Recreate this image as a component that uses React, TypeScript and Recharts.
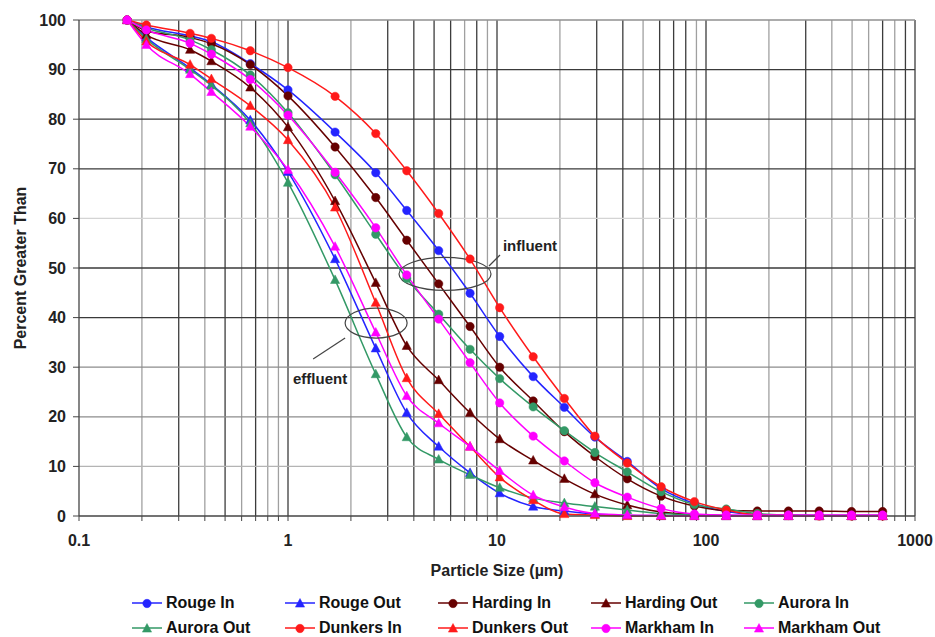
import {
  LineChart,
  Line,
  XAxis,
  YAxis,
  ReferenceLine,
  ReferenceDot,
  Legend,
} from "recharts";

// ── Data ─────────────────────────────────────────────────────────────

const sizes = [
  0.17, 0.21, 0.34, 0.43, 0.66, 1.0, 1.68, 2.63, 3.7, 5.26, 7.43, 10.3, 14.9,
  21, 29.4, 42, 61, 88, 125, 176, 248, 348, 497, 700,
];

const rougeIn = [100, 98.6, 96.8, 95.6, 91.2, 85.9, 77.4, 69.2, 61.6, 53.5, 44.9, 36.2, 28.1, 21.9, 15.9, 11.0, 5.5, 2.5, 0.9, 0.3, 0.2, 0.1, 0.1, 0.1];
const rougeOut = [100, 96.5, 90.3, 87.0, 79.8, 69.4, 51.8, 33.8, 20.8, 14.0, 8.7, 4.6, 1.9, 1.0, 0.4, 0.1, 0, 0, 0, 0, 0, 0, 0, 0];
const hardingIn = [100, 97.8, 96.5, 95.2, 91.0, 84.7, 74.4, 64.2, 55.6, 46.8, 38.2, 30.0, 23.2, 17.0, 12.0, 7.5, 4.0, 2.0, 1.1, 1.0, 1.0, 1.0, 0.9, 0.9];
const hardingOut = [100, 97.0, 94.0, 91.7, 86.4, 78.4, 63.5, 47.0, 34.3, 27.4, 20.8, 15.5, 11.2, 7.5, 4.4, 2.2, 0.8, 0.3, 0.1, 0, 0, 0, 0, 0];
const auroraIn = [100, 98.4, 96.0, 94.0, 88.9, 81.3, 68.8, 56.8, 47.9, 40.7, 33.6, 27.7, 22.0, 17.2, 12.8, 8.9, 4.9, 2.3, 1.4, 0.5, 0.2, 0.1, 0.1, 0.1];
const auroraOut = [100, 96.2, 90.0, 86.8, 79.2, 67.2, 47.6, 28.6, 15.9, 11.4, 8.3, 5.7, 3.6, 2.6, 1.9, 1.2, 0.5, 0.2, 0, 0, 0, 0, 0, 0];
const dunkersIn = [100, 99.0, 97.3, 96.3, 93.8, 90.4, 84.6, 77.1, 69.6, 61.0, 51.8, 42.0, 32.1, 23.7, 16.1, 10.7, 5.9, 2.9, 1.2, 0.2, 0.1, 0, 0, 0];
const dunkersOut = [100, 95.7, 91.0, 88.1, 82.7, 75.8, 62.2, 43.0, 27.8, 20.6, 14.0, 7.8, 3.2, 0.4, 0.2, 0, 0, 0, 0, 0, 0, 0, 0, 0];
const markhamIn = [100, 98.0, 95.3, 93.1, 88.0, 80.8, 69.3, 58.1, 48.6, 39.7, 30.9, 22.8, 16.1, 11.1, 6.7, 3.8, 1.5, 0.4, 0.2, 0.2, 0.2, 0.2, 0.2, 0.2];
const markhamOut = [100, 95.0, 89.1, 85.5, 78.5, 69.8, 54.3, 37.0, 24.2, 18.7, 14.0, 9.1, 4.2, 1.8, 0.5, 0.2, 0.1, 0, 0, 0, 0, 0, 0, 0];

const decades = [0.1, 1, 10, 100, 1000];
const yTicks = [0, 10, 20, 30, 40, 50, 60, 70, 80, 90, 100];

const notes = [
  { label: "influent", size: 5.64, percent: 48.8 },
  { label: "effluent", size: 2.64, percent: 38.9 },
];

// ── Styling ──────────────────────────────────────────────────────────

const FONT = '"Liberation Sans", Arial, sans-serif';
const BLUE = "#2424ff";
const MAROON = "#660000";
const GREEN = "#339966";
const RED = "#ff1a1a";
const MAGENTA = "#ff00ff";

type Marker = "circle" | "triangle";

interface Series {
  key: string;
  name: string;
  color: string;
  marker: Marker;
  values: number[];
}

const seriesList: Series[] = [
  { key: "rougeIn", name: "Rouge In", color: BLUE, marker: "circle", values: rougeIn },
  { key: "rougeOut", name: "Rouge Out", color: BLUE, marker: "triangle", values: rougeOut },
  { key: "hardingIn", name: "Harding In", color: MAROON, marker: "circle", values: hardingIn },
  { key: "hardingOut", name: "Harding Out", color: MAROON, marker: "triangle", values: hardingOut },
  { key: "auroraIn", name: "Aurora In", color: GREEN, marker: "circle", values: auroraIn },
  { key: "auroraOut", name: "Aurora Out", color: GREEN, marker: "triangle", values: auroraOut },
  { key: "dunkersIn", name: "Dunkers In", color: RED, marker: "circle", values: dunkersIn },
  { key: "dunkersOut", name: "Dunkers Out", color: RED, marker: "triangle", values: dunkersOut },
  { key: "markhamIn", name: "Markham In", color: MAGENTA, marker: "circle", values: markhamIn },
  { key: "markhamOut", name: "Markham Out", color: MAGENTA, marker: "triangle", values: markhamOut },
];

const data = sizes.map((size, i) => {
  const row: Record<string, number> = { size };
  seriesList.forEach((s) => {
    row[s.key] = s.values[i];
  });
  return row;
});

// log gridlines: 2..9 inside every decade, plus the decades themselves
const xTicks = decades.flatMap((d, i) =>
  i === decades.length - 1
    ? [d]
    : [1, 2, 3, 4, 5, 6, 7, 8, 9].map((m) => Number((d * m).toPrecision(3)))
);
const darkX = new Set([0.3, 0.5, 0.7, 1, 3, 4, 5, 6, 8, 10, 30, 40, 60, 70, 80, 100, 300, 700, 900, 1000]);
const yGridColor: Record<number, string> = {
  10: "#b4b4b4",
  20: "#8c8c8c",
  30: "#8c8c8c",
  40: "#3a3a3a",
  50: "#3a3a3a",
  60: "#d4d4d4",
  70: "#3a3a3a",
  80: "#3a3a3a",
  90: "#3a3a3a",
  100: "#909090",
};

// ── Pieces ───────────────────────────────────────────────────────────

function MarkerShape({ cx, cy, color, marker }: { cx: number; cy: number; color: string; marker: Marker }) {
  if (marker === "circle") {
    return <circle cx={cx} cy={cy} r={4.2} fill={color} stroke={color} strokeWidth={0.5} />;
  }
  return (
    <polygon
      points={`${cx},${cy - 5} ${cx - 4.6},${cy + 3.6} ${cx + 4.6},${cy + 3.6}`}
      fill={color}
      stroke={color}
      strokeWidth={0.5}
    />
  );
}

function makeDot(color: string, marker: Marker) {
  return (props: any) => {
    const { cx, cy, index } = props;
    if (cx == null || cy == null) return <g key={index} />;
    return (
      <g key={index}>
        <MarkerShape cx={cx} cy={cy} color={color} marker={marker} />
      </g>
    );
  };
}

function LegendGrid() {
  return (
    <div
      style={{
        display: "grid",
        gridTemplateColumns: "repeat(5, 153px)",
        rowGap: 5,
        paddingLeft: 132,
        fontFamily: FONT,
        fontWeight: 700,
        fontSize: 16,
        color: "#111",
      }}
    >
      {seriesList.map((s) => (
        <div key={s.key} style={{ display: "flex", alignItems: "center", height: 20 }}>
          <svg width={30} height={12}>
            <line x1={0} y1={6} x2={30} y2={6} stroke={s.color} strokeWidth={1.5} />
            <MarkerShape cx={15} cy={6.5} color={s.color} marker={s.marker} />
          </svg>
          <span style={{ marginLeft: 4 }}>{s.name}</span>
        </div>
      ))}
    </div>
  );
}

function YTitle(props: any) {
  const { viewBox } = props;
  const x = viewBox.x + 20;
  const y = viewBox.y + viewBox.height / 2;
  return (
    <text
      x={x}
      y={y}
      transform={`rotate(-90 ${x} ${y})`}
      textAnchor="middle"
      dominantBaseline="central"
      fontFamily={FONT}
      fontWeight={700}
      fontSize={16}
      fill="#222"
    >
      Percent Greater Than
    </text>
  );
}

// callout: ellipse round the curves, a leader line and its word
function Callout(props: any) {
  const { cx, cy, label } = props;
  const influent = label === "influent";
  const rx = influent ? 46 : 31;
  const ry = influent ? 16.5 : 15;
  const lead = influent ? [44, -8, 55, -19] : [-31, 15, -63, 36];
  const tx = influent ? 85 : -56;
  const ty = influent ? -28 : 55;
  return (
    <g>
      <ellipse cx={cx} cy={cy} rx={rx} ry={ry} fill="none" stroke="#444" strokeWidth={1.2} />
      <line
        x1={cx + lead[0]}
        y1={cy + lead[1]}
        x2={cx + lead[2]}
        y2={cy + lead[3]}
        stroke="#444"
        strokeWidth={1.2}
      />
      <text
        x={cx + tx}
        y={cy + ty}
        textAnchor="middle"
        dominantBaseline="central"
        fontFamily={FONT}
        fontWeight={700}
        fontSize={15}
        fill="#222"
      >
        {label}
      </text>
    </g>
  );
}

// ── Component ────────────────────────────────────────────────────────

export default function App() {
  return (
    <div style={{ width: 935, height: 637, background: "#fff" }}>
      <style>{"body{margin:0}"}</style>
      <LineChart
        width={935}
        height={637}
        data={data}
        margin={{ top: 20, right: 20, bottom: 56, left: 0 }}
      >
        {xTicks
          .filter((v) => v > 0.1)
          .map((v) => (
            <ReferenceLine
              key={`gx${v}`}
              x={v}
              stroke={darkX.has(v) ? "#3c3c3c" : "#a0a0a0"}
              strokeWidth={1.3}
            />
          ))}
        {yTicks
          .filter((v) => v > 0)
          .map((v) => (
            <ReferenceLine key={`gy${v}`} y={v} stroke={yGridColor[v]} strokeWidth={1.3} />
          ))}
        <XAxis
          dataKey="size"
          type="number"
          scale="log"
          domain={[0.1, 1000]}
          allowDataOverflow
          ticks={xTicks}
          interval={0}
          tickFormatter={(v: number) => (decades.includes(v) ? String(v) : "")}
          tick={{ fill: "#222", fontSize: 16, fontWeight: 700, fontFamily: FONT }}
          tickLine={{ stroke: "#444" }}
          tickSize={5}
          tickMargin={14}
          axisLine={{ stroke: "#444", strokeWidth: 1.3 }}
          height={65}
          label={{
            value: "Particle Size (µm)",
            position: "insideBottom",
            offset: 5,
            fill: "#222",
            fontSize: 16,
            fontWeight: 700,
            fontFamily: FONT,
          }}
        />
        <YAxis
          type="number"
          domain={[0, 100]}
          ticks={yTicks}
          interval={0}
          width={79}
          tick={{ fill: "#222", fontSize: 16, fontWeight: 700, fontFamily: FONT }}
          tickLine={{ stroke: "#444" }}
          tickSize={6}
          tickMargin={7}
          axisLine={{ stroke: "#444", strokeWidth: 1.3 }}
          label={<YTitle />}
        />
        {seriesList.map((s) => (
          <Line
            key={s.key}
            dataKey={s.key}
            name={s.name}
            type="monotone"
            stroke={s.color}
            strokeWidth={1.5}
            dot={makeDot(s.color, s.marker)}
            activeDot={false}
            isAnimationActive={false}
          />
        ))}
        {notes.map((n) => (
          <ReferenceDot
            key={n.label}
            x={n.size}
            y={n.percent}
            r={0}
            shape={(p: any) => <Callout {...p} label={n.label} />}
          />
        ))}
        <Legend
          layout="horizontal"
          verticalAlign="middle"
          align="center"
          content={() => <LegendGrid />}
          wrapperStyle={{ top: 593, left: 0, bottom: "auto", width: 935 }}
        />
      </LineChart>
    </div>
  );
}
